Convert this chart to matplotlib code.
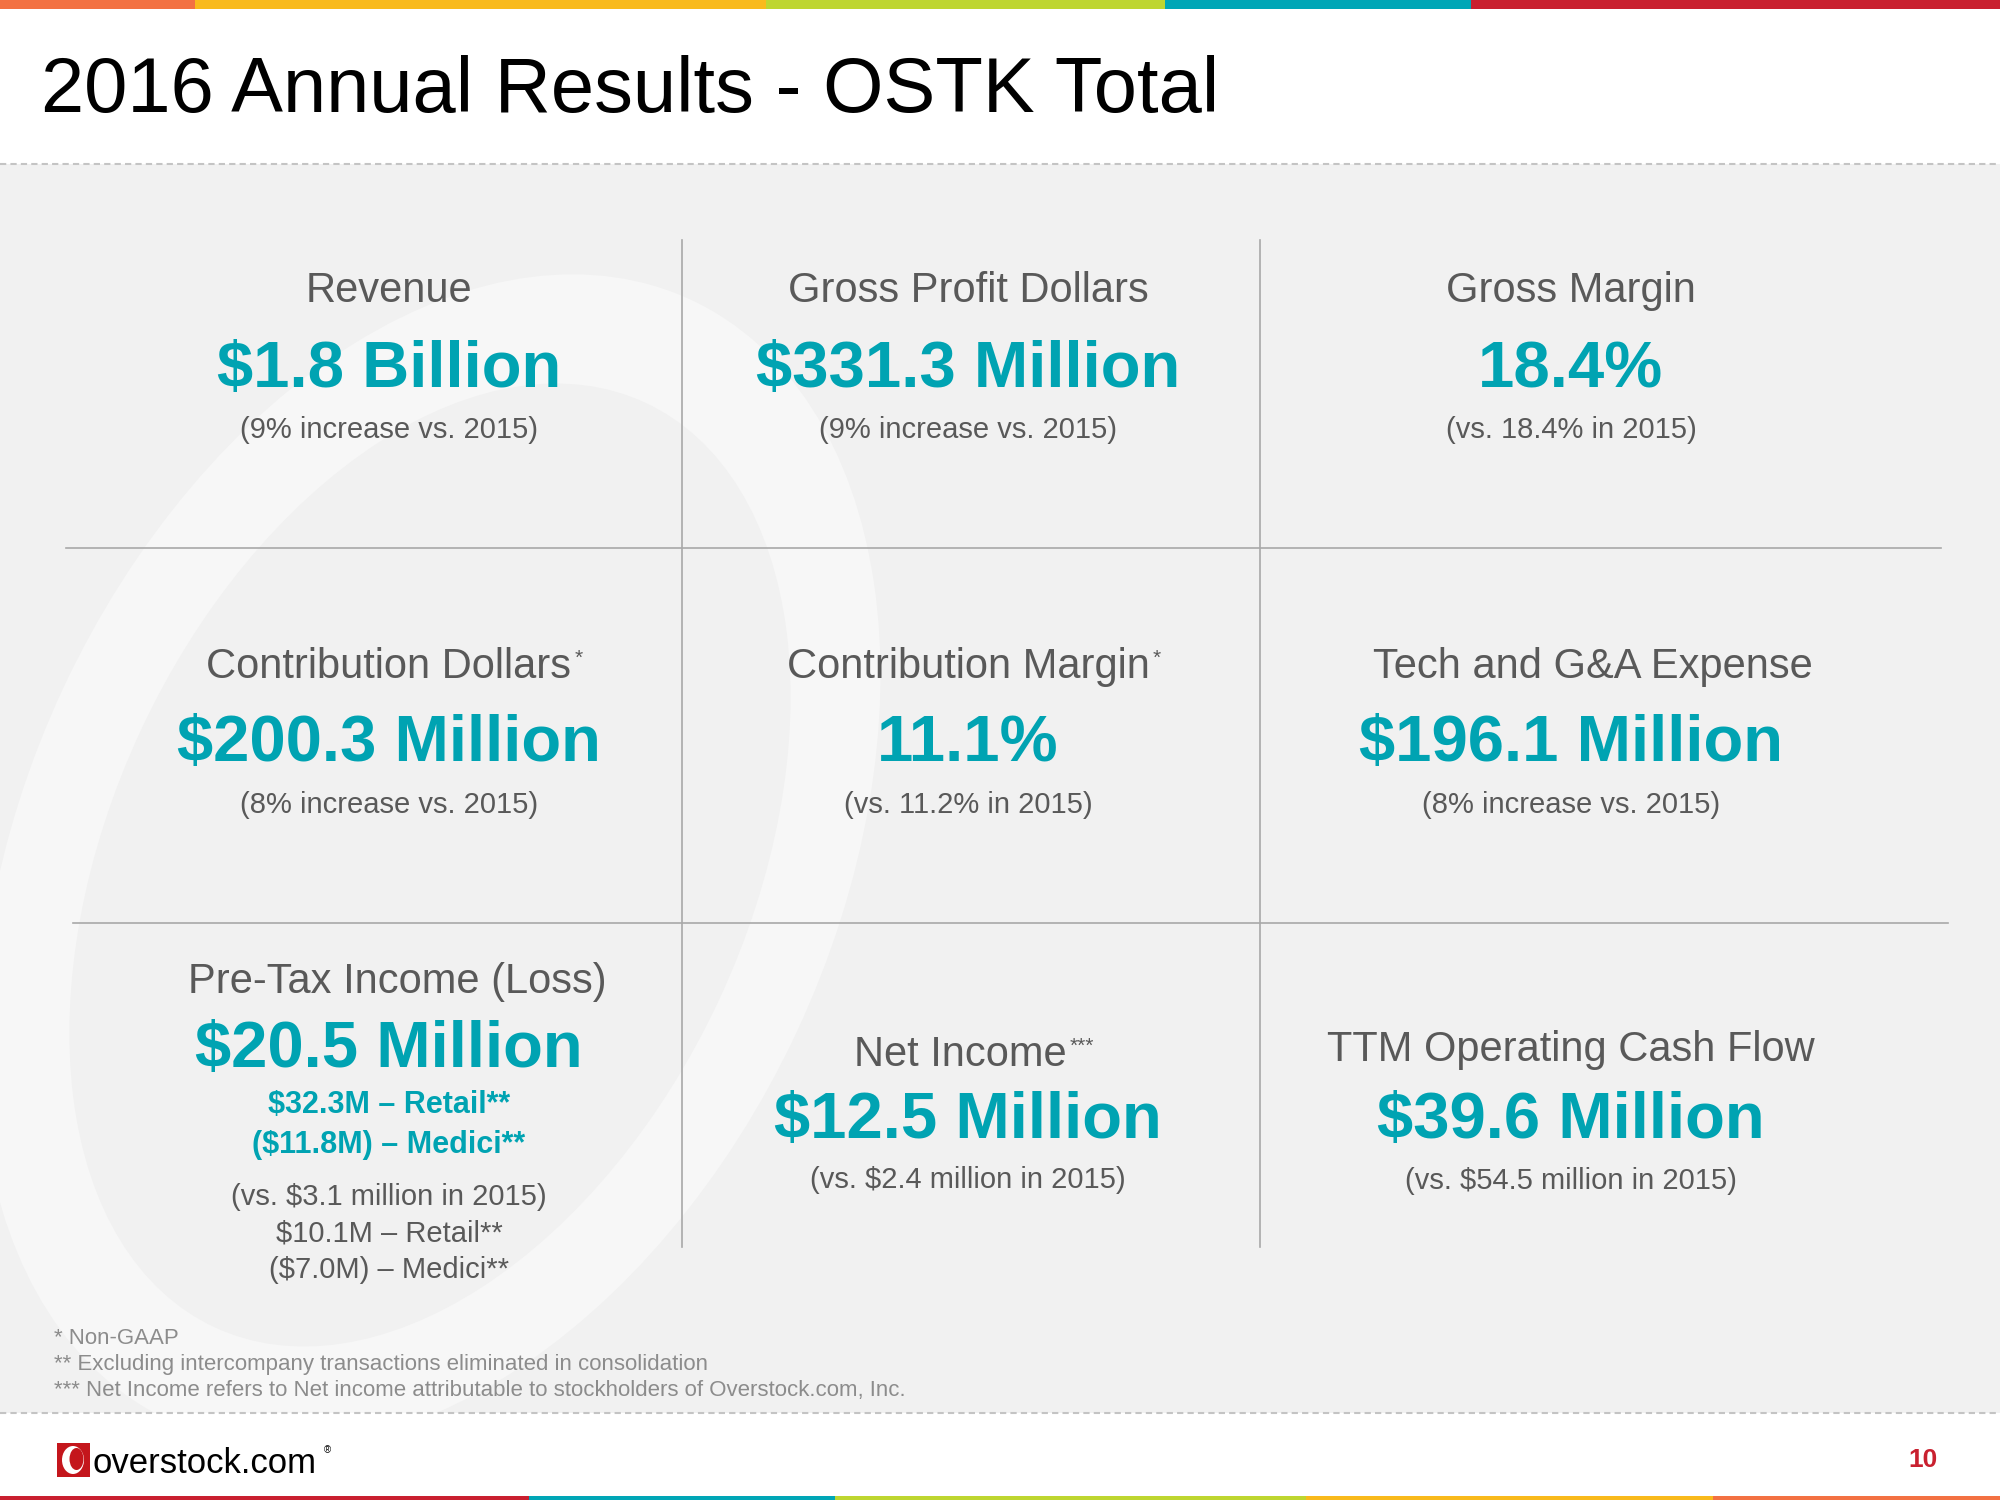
import matplotlib
matplotlib.use("Agg")
import matplotlib.pyplot as plt
from matplotlib.patches import Rectangle, Ellipse

plt.rcParams['font.family'] = ['Liberation Sans', 'DejaVu Sans']

# slide content
title = "2016 Annual Results - OSTK Total"
metric_names = ["Revenue", "Gross Profit Dollars", "Gross Margin",
                "Contribution Dollars", "Contribution Margin", "Tech and G&A Expense",
                "Pre-Tax Income (Loss)", "Net Income", "TTM Operating Cash Flow"]
name_marks = ["", "", "", "*", "*", "", "", "***", ""]
metric_values = ["$1.8 Billion", "$331.3 Million", "18.4%",
                 "$200.3 Million", "11.1%", "$196.1 Million",
                 "$20.5 Million", "$12.5 Million", "$39.6 Million"]
metric_notes = ["(9% increase vs. 2015)", "(9% increase vs. 2015)", "(vs. 18.4% in 2015)",
                "(8% increase vs. 2015)", "(vs. 11.2% in 2015)", "(8% increase vs. 2015)",
                "(vs. $3.1 million in 2015)", "(vs. $2.4 million in 2015)",
                "(vs. $54.5 million in 2015)"]
pretax_split_2016 = ["$32.3M \u2013 Retail**", "($11.8M) \u2013 Medici**"]
pretax_split_2015 = ["$10.1M \u2013 Retail**", "($7.0M) \u2013 Medici**"]
footnotes = ["* Non-GAAP",
             "** Excluding intercompany transactions eliminated in consolidation",
             "*** Net Income refers to Net income attributable to stockholders of Overstock.com, Inc."]
page_number = "10"

TEAL = '#00A3B2'
GRAY_TXT = '#595959'
RED = '#C9202F'

fig = plt.figure(figsize=(20, 15), dpi=100)
fig.patch.set_facecolor('white')
ax = fig.add_axes([0, 0, 1, 1])
ax.set_xlim(0, 2000)
ax.set_ylim(1500, 0)
ax.axis('off')

# colour strips top and bottom
for x0, x1, c in [(0, 195, '#F37142'), (195, 766, '#F9BA1C'), (766, 1165, '#BED630'),
                  (1165, 1471, '#00A6B6'), (1471, 2000, RED)]:
    ax.add_patch(Rectangle((x0, 0), x1 - x0, 9, color=c, lw=0))
for x0, x1, c in [(0, 529, RED), (529, 835, '#00A6B6'), (835, 1306, '#BED630'),
                  (1306, 1713, '#F9BA1C'), (1713, 2000, '#F37142')]:
    ax.add_patch(Rectangle((x0, 1496), x1 - x0, 4, color=c, lw=0))

# grey panel with faint tilted "O" ring
panel = Rectangle((0, 164), 2000, 1249, color='#F1F1F1', lw=0, zorder=1)
ax.add_patch(panel)
outer = Ellipse((430, 860), 810, 1236, angle=25, color='#F7F7F7', lw=0, zorder=1.1)
inner = Ellipse((430, 865), 638, 1020, angle=25, color='#F1F1F1', lw=0, zorder=1.2)
for e in (outer, inner):
    ax.add_patch(e)
    e.set_clip_path(panel)

ax.plot([0, 2000], [164, 164], color='#C4C4C4', lw=1.5, ls=(0, (3, 2)), zorder=2)
ax.plot([0, 2000], [1413, 1413], color='#C4C4C4', lw=1.5, ls=(0, (3, 2)), zorder=2)

# grid lines
ax.plot([682, 682], [240, 1247], color='#A8A8A8', lw=1.2, zorder=2)
ax.plot([1260, 1260], [240, 1247], color='#A8A8A8', lw=1.2, zorder=2)
ax.plot([66, 1941], [548, 548], color='#A8A8A8', lw=1.2, zorder=2)
ax.plot([73, 1948], [923, 923], color='#A8A8A8', lw=1.2, zorder=2)

ax.text(41, 112, title, fontsize=56, color='black', va='baseline', ha='left',
        parse_math=False, zorder=3)

col_x = [389, 968, 1571]
name_x = [389, 968, 1571, 389, 968, 1593, 397, 960, 1571]
base_y = [(302, 387, 438), (302, 387, 438), (302, 387, 438),
          (678, 761, 813), (678, 761, 813), (678, 761, 813),
          (993, 1067, 1205), (1066, 1138, 1188), (1061, 1138, 1189)]

renderer = fig.canvas.get_renderer()
inv = ax.transData.inverted()

for i in range(9):
    cx = col_x[i % 3]
    yl, yv, yn = base_y[i]
    t = ax.text(name_x[i], yl, metric_names[i], fontsize=30, color=GRAY_TXT,
                ha='center', va='baseline', parse_math=False, zorder=3)
    if name_marks[i]:
        bb = t.get_window_extent(renderer)
        x1, ytop = inv.transform((bb.x1, bb.y1))
        ax.text(x1 + 3, ytop + 2, name_marks[i], fontsize=15, color=GRAY_TXT,
                ha='left', va='top', parse_math=False, zorder=3)
    ax.text(cx, yv, metric_values[i], fontsize=47, fontweight='bold', color=TEAL,
            ha='center', va='baseline', parse_math=False, zorder=3)
    ax.text(cx, yn, metric_notes[i], fontsize=21, color=GRAY_TXT,
            ha='center', va='baseline', parse_math=False, zorder=3)

for s, y in zip(pretax_split_2016, [1113, 1153]):
    ax.text(col_x[0], y, s, fontsize=22, fontweight='bold', color=TEAL,
            ha='center', va='baseline', parse_math=False, zorder=3)
for s, y in zip(pretax_split_2015, [1242, 1278]):
    ax.text(col_x[0], y, s, fontsize=21, color=GRAY_TXT,
            ha='center', va='baseline', parse_math=False, zorder=3)

for s, y in zip(footnotes, [1344, 1370, 1396]):
    ax.text(54, y, s, fontsize=16, color='#8C8C8C', ha='left', va='baseline',
            parse_math=False, zorder=3)

# logo
ax.add_patch(Rectangle((57, 1443), 33, 34, color='#C4161C', lw=0, zorder=3))
ax.add_patch(Ellipse((73, 1460), 22, 28, color='white', lw=0, zorder=4))
ax.add_patch(Ellipse((76.5, 1459), 14, 22, color='#C4161C', lw=0, zorder=5))
ax.text(93, 1473, "overstock.com", fontsize=25, color='black', ha='left',
        va='baseline', parse_math=False, zorder=3)
ax.text(324, 1453, "\u00ae", fontsize=7, color='black', ha='left', va='baseline', zorder=3)

ax.text(1923, 1467, page_number, fontsize=19, fontweight='bold', color=RED,
        ha='center', va='baseline', zorder=3)

fig.savefig("out.png", dpi=100, facecolor='white')
